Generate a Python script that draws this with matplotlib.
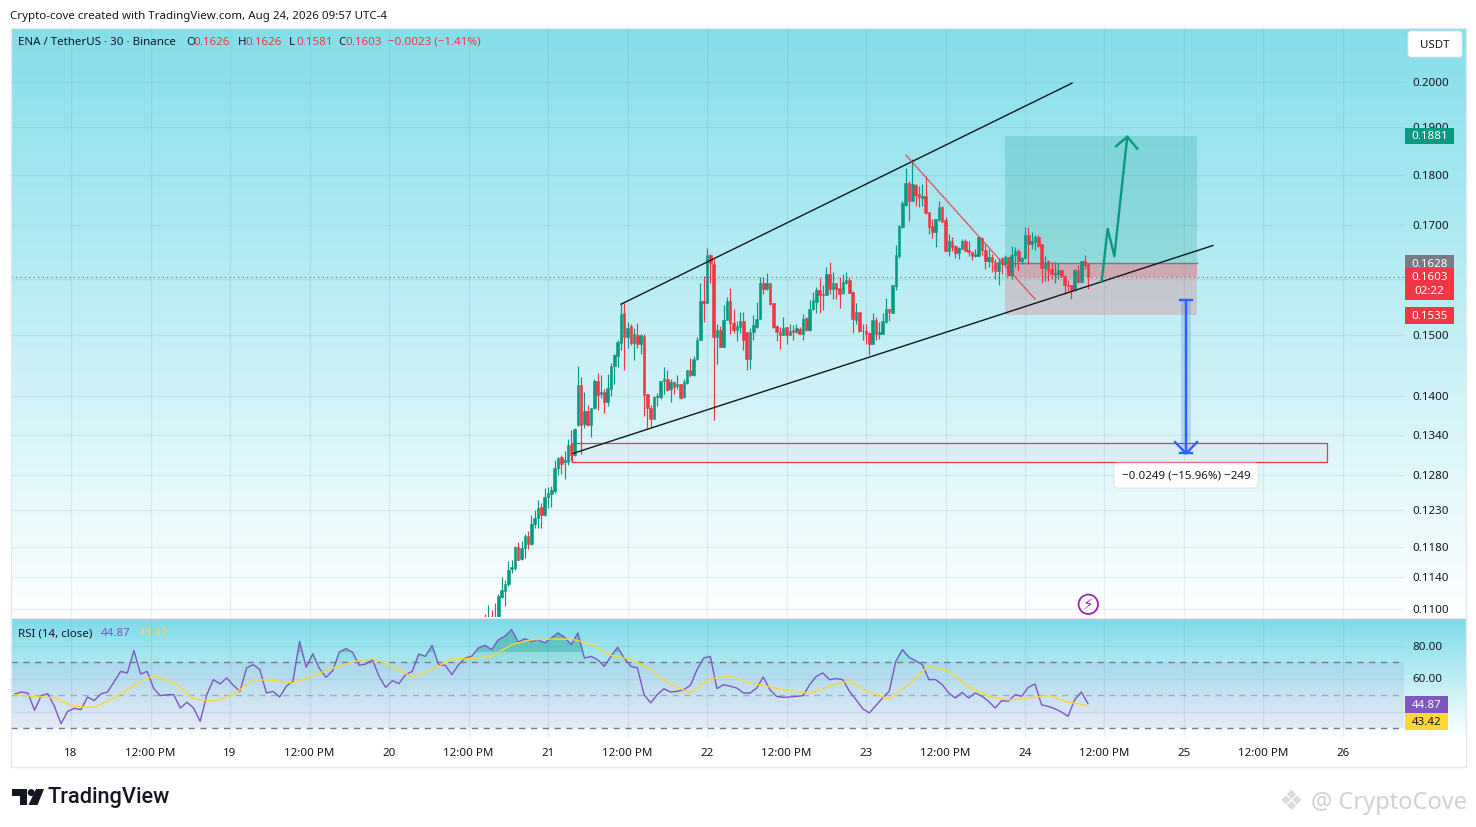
import numpy as np
import matplotlib
matplotlib.use("Agg")
from matplotlib import pyplot as plt
from matplotlib.patches import Rectangle, FancyBboxPatch, Polygon, Circle

plt.rcParams['font.family'] = ['Noto Sans', 'DejaVu Sans']

W, H = 1476, 827

# 30 minute candles, first one is bar 29 of Aug 20
first_bar_day = 20 + 29 / 48
opens = [.1085,.1075,.1090,.1080,.1085,.1115,.1122,.1132,.1151,.1152,
         .1180,.1164,.1178,.1195,.1184,.1211,.1219,.1234,.1224,.1249,
         .1253,.1257,.1290,.1307,.1300,.1300,.1325,.1309,.1355,.1418,
         .1356,.1377,.1355,.1381,.1425,.1403,.1407,.1391,.1411,.1448,
         .1465,.1487,.1538,.1497,.1516,.1487,.1501,.1486,.1499,.1403,
         .1381,.1365,.1398,.1398,.1425,.1428,.1411,.1423,.1416,.1419,
         .1398,.1421,.1443,.1434,.1460,.1493,.1560,.1557,.1643,.1627,
         .1497,.1509,.1481,.1527,.1560,.1522,.1510,.1515,.1525,.1505,
         .1460,.1505,.1515,.1529,.1591,.1581,.1591,.1556,.1516,.1506,
         .1501,.1514,.1501,.1509,.1506,.1511,.1503,.1530,.1509,.1545,
         .1558,.1579,.1572,.1571,.1609,.1581,.1591,.1582,.1574,.1592,
         .1597,.1576,.1526,.1540,.1508,.1507,.1504,.1486,.1526,.1502,
         .1503,.1523,.1545,.1539,.1586,.1642,.1696,.1740,.1783,.1748,
         .1779,.1761,.1753,.1756,.1725,.1698,.1686,.1709,.1736,.1709,
         .1651,.1670,.1661,.1647,.1655,.1670,.1653,.1648,.1642,.1642,
         .1675,.1653,.1633,.1639,.1630,.1613,.1638,.1626,.1639,.1607,
         .1644,.1651,.1633,.1638,.1680,.1663,.1667,.1677,.1663,.1619,
         .1632,.1617,.1607,.1609,.1615,.1605,.1589,.1588,.1579,.1616,
         .1594,.1633,.1626]
highs = [.1093,.1105,.1098,.1107,.1118,.1141,.1136,.1161,.1163,.1181,
         .1187,.1188,.1198,.1201,.1224,.1231,.1245,.1240,.1262,.1263,
         .1264,.1302,.1307,.1310,.1316,.1333,.1347,.1350,.1448,.1431,
         .1407,.1386,.1382,.1428,.1438,.1434,.1411,.1435,.1453,.1469,
         .1492,.1556,.1556,.1523,.1520,.1513,.1522,.1503,.1502,.1404,
         .1386,.1400,.1405,.1425,.1447,.1442,.1428,.1424,.1434,.1420,
         .1428,.1443,.1462,.1465,.1498,.1591,.1604,.1657,.1645,.1636,
         .1520,.1516,.1553,.1567,.1582,.1545,.1524,.1540,.1540,.1506,
         .1513,.1535,.1558,.1602,.1602,.1610,.1592,.1557,.1517,.1515,
         .1532,.1515,.1520,.1518,.1520,.1515,.1536,.1532,.1561,.1575,
         .1585,.1601,.1588,.1621,.1631,.1611,.1592,.1602,.1609,.1611,
         .1602,.1577,.1556,.1541,.1520,.1520,.1506,.1539,.1532,.1523,
         .1538,.1565,.1546,.1588,.1662,.1701,.1747,.1814,.1788,.1833,
         .1782,.1778,.1781,.1797,.1726,.1711,.1711,.1748,.1738,.1715,
         .1683,.1677,.1662,.1658,.1673,.1673,.1670,.1650,.1655,.1678,
         .1677,.1664,.1655,.1646,.1636,.1638,.1639,.1643,.1640,.1660,
         .1658,.1655,.1640,.1696,.1696,.1686,.1680,.1680,.1664,.1641,
         .1634,.1630,.1631,.1628,.1616,.1606,.1598,.1589,.1618,.1624,
         .1633,.1643,.1626]
lows = [.1075,.1070,.1060,.1065,.1080,.1113,.1103,.1129,.1146,.1149,
        .1162,.1162,.1165,.1177,.1183,.1205,.1206,.1206,.1222,.1233,
        .1234,.1255,.1281,.1282,.1274,.1295,.1301,.1308,.1354,.1311,
        .1351,.1354,.1337,.1380,.1379,.1397,.1373,.1385,.1400,.1419,
        .1447,.1475,.1442,.1478,.1483,.1458,.1479,.1469,.1369,.1351,
        .1352,.1364,.1385,.1396,.1404,.1408,.1391,.1403,.1411,.1396,
        .1397,.1420,.1431,.1433,.1459,.1492,.1523,.1556,.1592,.1363,
        .1452,.1480,.1480,.1526,.1503,.1504,.1490,.1504,.1475,.1442,
        .1444,.1492,.1513,.1528,.1572,.1580,.1553,.1512,.1490,.1477,
        .1500,.1486,.1500,.1492,.1504,.1502,.1492,.1508,.1508,.1544,
        .1538,.1538,.1543,.1570,.1572,.1563,.1563,.1548,.1573,.1590,
        .1574,.1504,.1519,.1506,.1492,.1486,.1467,.1485,.1492,.1494,
        .1503,.1522,.1525,.1538,.1579,.1638,.1695,.1738,.1708,.1747,
        .1738,.1735,.1738,.1722,.1683,.1675,.1659,.1708,.1705,.1650,
        .1642,.1651,.1638,.1635,.1654,.1650,.1642,.1634,.1640,.1641,
        .1643,.1618,.1621,.1612,.1600,.1588,.1609,.1625,.1605,.1600,
        .1621,.1615,.1627,.1636,.1627,.1655,.1652,.1658,.1592,.1596,
        .1596,.1600,.1591,.1600,.1602,.1573,.1577,.1563,.1578,.1592,
        .1593,.1618,.1581]
closes = [.1080,.1085,.1080,.1088,.1116,.1124,.1131,.1150,.1153,.1180,
          .1163,.1178,.1195,.1184,.1211,.1219,.1233,.1224,.1249,.1254,
          .1258,.1290,.1305,.1297,.1302,.1325,.1309,.1349,.1418,.1355,
          .1377,.1355,.1381,.1425,.1402,.1406,.1391,.1413,.1448,.1467,
          .1488,.1537,.1497,.1513,.1487,.1502,.1485,.1500,.1402,.1381,
          .1365,.1399,.1401,.1425,.1428,.1410,.1423,.1414,.1419,.1397,
          .1422,.1443,.1434,.1461,.1493,.1560,.1557,.1643,.1629,.1497,
          .1509,.1481,.1527,.1560,.1522,.1510,.1516,.1525,.1493,.1460,
          .1505,.1518,.1529,.1591,.1581,.1591,.1554,.1515,.1506,.1501,
          .1512,.1501,.1507,.1505,.1512,.1503,.1529,.1509,.1545,.1561,
          .1579,.1571,.1571,.1609,.1581,.1591,.1581,.1573,.1594,.1597,
          .1574,.1528,.1540,.1507,.1507,.1503,.1486,.1526,.1503,.1505,
          .1525,.1545,.1540,.1588,.1644,.1698,.1743,.1783,.1748,.1781,
          .1758,.1755,.1756,.1723,.1696,.1686,.1711,.1736,.1706,.1651,
          .1670,.1659,.1647,.1657,.1670,.1651,.1648,.1641,.1645,.1677,
          .1652,.1633,.1639,.1630,.1613,.1630,.1627,.1639,.1607,.1644,
          .1651,.1633,.1638,.1680,.1664,.1669,.1678,.1661,.1619,.1629,
          .1616,.1609,.1610,.1615,.1605,.1588,.1587,.1579,.1616,.1594,
          .1633,.1624,.1603]

# RSI read hourly, its moving average every 3 hours, both end on the last bar
rsi_values = [50.6,51.8,51.2,40.7,49.6,50.8,43.1,32.6,40.1,41.9,
              41.1,48.8,46.6,50.6,51.8,57.9,64.3,63.3,77.0,62.7,
              64.3,53.8,49.6,50.2,50.2,42.1,45.6,42.1,34.0,50.2,
              59.3,56.7,60.3,55.9,52.2,66.4,68.4,65.4,51.2,52.2,
              48.8,55.3,58.3,82.5,66.8,75.0,66.0,60.7,64.7,76.0,
              78.1,75.9,68.0,68.8,71.4,61.3,54.6,58.7,56.9,62.3,
              64.3,74.8,73.4,80.0,68.4,68.0,62.3,68.4,72.4,73.6,
              78.5,80.1,77.5,83.5,85.6,89.6,82.1,84.1,82.5,83.5,
              81.5,84.5,87.6,85.0,80.5,87.6,72.4,73.4,71.4,67.4,
              73.4,78.9,72.4,67.4,66.4,50.2,45.2,50.2,53.8,51.8,
              52.2,53.2,55.9,65.4,72.4,73.4,53.8,56.3,55.3,54.2,
              51.2,51.2,54.2,60.9,53.2,49.2,48.6,48.8,49.2,49.6,
              56.3,61.3,63.3,59.3,59.9,59.3,52.2,47.2,41.7,39.1,
              43.7,48.2,52.2,70.4,77.5,72.8,70.8,68.4,59.3,59.3,
              56.3,51.2,48.2,51.6,48.2,51.2,49.2,46.2,42.1,46.6,
              46.2,50.2,49.2,54.6,56.7,44.1,43.1,41.7,39.7,37.1,
              47.2,51.8,44.87]
rsi_ma = [50.2,49.2,48.2,43.1,42.5,48.2,55.9,61.7,57.7,47.8,
          46.2,50.2,59.3,58.9,57.3,61.7,66.4,70.0,72.0,67.4,
          60.9,65.4,72.0,72.0,73.4,80.5,83.5,83.9,83.9,80.9,
          74.0,71.8,65.4,56.3,51.2,59.9,61.3,57.3,54.9,52.6,
          51.0,55.3,58.7,51.6,47.6,56.7,67.8,64.3,54.9,49.2,
          47.0,48.2,49.8,45.8,43.42]

# 0.1600 and 40.00 have grid lines but their labels are covered by the tags
price_ticks = [0.2, 0.19, 0.18, 0.17, 0.16, 0.15, 0.14, 0.134, 0.128, 0.123, 0.118, 0.114, 0.11]
price_labels = ['0.2000', '0.1900', '0.1800', '0.1700', '', '0.1500', '0.1400', '0.1340',
                '0.1280', '0.1230', '0.1180', '0.1140', '0.1100']
rsi_ticks = [80, 60, 40]
rsi_labels = ['80.00', '60.00', '']
time_ticks = [18, 18.5, 19, 19.5, 20, 20.5, 21, 21.5, 22, 22.5, 23, 23.5, 24, 24.5, 25, 25.5, 26]
time_labels = ['18', '12:00 PM', '19', '12:00 PM', '20', '12:00 PM', '21', '12:00 PM', '22',
               '12:00 PM', '23', '12:00 PM', '24', '12:00 PM', '25', '12:00 PM', '26']

# drawings, in (day, price)
upper_channel = ([21.459, 24.296], [.1554, .1997])
lower_channel = ([21.157, 25.182], [.1312, .1661])
red_trend = ([23.252, 24.063], [.1840, .1563])
bounce_days = [24.482, 24.520, 24.562, 24.643]
bounce_prices = [.1594, .1693, .1641, .1879]
head_days = [24.572, 24.643, 24.706]
head_prices = [.1859, .1879, .1854]
position_days = (23.874, 25.082)
target_price, entry_price, stop_price = .1881, .1628, .1535
last_price = .1603
zone_days = (21.151, 25.899)
zone_prices = (.1300, .1327)
measure_day = 25.013
measure_top, measure_bottom = .1561, .1312

GREEN = '#089981'
RED = '#F23645'
BLUE = '#2962FF'
PURPLE = '#7E57C2'
YELLOW = '#FDD835'
INK = '#131722'
GRID = dict(color='#4f7ea8', alpha=0.11, linewidth=1)
FONT = 8.3


def rect(left, top, right, bottom):
    return [left / W, 1 - bottom / H, (right - left) / W, (bottom - top) / H]


def gradient(position, top_color):
    bg = fig.add_axes(position, zorder=0)
    t = np.linspace(0, 1, 256)[:, None, None]
    top = np.array(matplotlib.colors.to_rgb(top_color))[None, None, :]
    bg.imshow(top + (1 - top) * t, aspect='auto', interpolation='bilinear')
    bg.axis('off')


fig = plt.figure(figsize=(W / 100, H / 100), dpi=100, facecolor='white')
gradient(rect(11, 28, 1466, 617), '#84DEEA')
gradient(rect(11, 618, 1466, 738), '#7CDBE8')

ax = fig.add_axes(rect(11, 28, 1404, 617), zorder=1, facecolor='none')
ax_rsi = fig.add_axes(rect(11, 618, 1404, 738), zorder=1, facecolor='none')
for a in (ax, ax_rsi):
    a.set_xlim(18 - 60 / 159, 18 + 1333 / 159)
    for spine in a.spines.values():
        spine.set_visible(False)
    a.set_xticks(time_ticks)
    a.grid(True, **GRID)
    a.set_axisbelow(True)
    a.yaxis.tick_right()
    a.tick_params(axis='both', length=0, labelsize=FONT, labelcolor=INK, which='both')

ax.set_yscale('log')
ax.set_ylim(.2 * np.exp(-535.2 / 881.5), .2 * np.exp(53.8 / 881.5))
ax.set_yticks(price_ticks, price_labels)
ax.yaxis.set_minor_locator(matplotlib.ticker.NullLocator())
ax.tick_params(axis='y', pad=6)
ax.tick_params(axis='x', labelbottom=False)

# long/short position box goes under the candles
ax.fill_between(position_days, entry_price, target_price, color=GREEN, alpha=0.2, lw=0, zorder=1)
ax.fill_between(position_days, stop_price, entry_price, color=RED, alpha=0.2, lw=0, zorder=1)
ax.fill_between(position_days, last_price, entry_price, color=RED, alpha=0.2, lw=0, zorder=1)
ax.plot(position_days, [entry_price, entry_price], color='#787B86', lw=1, zorder=1.5)

ax.add_patch(Rectangle((zone_days[0], zone_prices[0]), zone_days[1] - zone_days[0],
                       zone_prices[1] - zone_prices[0], facecolor='#b8a8a8', alpha=0.08, lw=0, zorder=1))
ax.add_patch(Rectangle((zone_days[0], zone_prices[0]), zone_days[1] - zone_days[0],
                       zone_prices[1] - zone_prices[0], fill=False, edgecolor=RED, lw=0.9, zorder=2))

ax.axhline(last_price, color=RED, lw=0.8, linestyle=(0, (1, 3)), zorder=1.5)

# candles
opens, highs, lows, closes = map(np.array, (opens, highs, lows, closes))
days = first_bar_day + np.arange(len(opens)) / 48
colors = np.where(closes >= opens, GREEN, RED)
ax.vlines(days, lows, highs, colors=colors, lw=0.85, zorder=3)
ax.bar(days, np.abs(closes - opens), bottom=np.minimum(opens, closes), width=2.6 / 159,
       color=colors, edgecolor=colors, lw=0.4, zorder=3)

# trend lines and arrows
ax.plot(*upper_channel, color=INK, lw=1, zorder=4)
ax.plot(*lower_channel, color=INK, lw=1, zorder=4)
ax.plot(*red_trend, color=RED, lw=1, alpha=0.8, zorder=4)
ax.plot(bounce_days, bounce_prices, color=GREEN, lw=1.7, zorder=5)
ax.plot(head_days, head_prices, color=GREEN, lw=1.7, zorder=5)

ax.add_patch(Rectangle((measure_day - 5 / 159, measure_bottom), 10 / 159, measure_top - measure_bottom,
                       facecolor=BLUE, alpha=0.2, lw=0, zorder=4))
ax.plot([measure_day, measure_day], [measure_top, measure_bottom], color=BLUE, lw=1.7, zorder=5)
for price in (measure_top, measure_bottom):
    ax.plot([measure_day - 6 / 159, measure_day + 6 / 159], [price, price], color=BLUE, lw=1.7, zorder=5)
ax.plot([measure_day - 11 / 159, measure_day, measure_day + 11 / 159], [.1329, measure_bottom, .1329],
        color=BLUE, lw=1.7, zorder=5)

# RSI pane
rsi_values = np.array(rsi_values)
last_day = days[-1]
rsi_days = last_day - np.arange(len(rsi_values))[::-1] / 24
ma_days = last_day - np.arange(len(rsi_ma))[::-1] / 8
ax_rsi.set_ylim(50 - 43 / 1.65, 50 + 77 / 1.65)
ax_rsi.set_yticks(rsi_ticks, rsi_labels)
ax_rsi.set_xticks(time_ticks, time_labels)
ax_rsi.tick_params(axis='y', pad=6)
ax_rsi.tick_params(axis='x', pad=7)
ax_rsi.get_xticklabels()[12].set_fontweight('bold')
ax_rsi.axhspan(30, 70, color=PURPLE, alpha=0.1, lw=0, zorder=1)
for level, a in ((70, 1), (50, 0.5), (30, 1)):
    ax_rsi.axhline(level, color='#787B86', lw=1, alpha=a, linestyle=(0, (4.5, 4)), zorder=2)
# overbought fill fades out towards the 70 line
ax_rsi.fill_between(rsi_days, 70, rsi_values, where=rsi_values > 70, interpolate=True,
                    color=GREEN, alpha=0.1, lw=0, zorder=2)
ax_rsi.fill_between(rsi_days, 76, rsi_values, where=rsi_values > 76, interpolate=True,
                    color=GREEN, alpha=0.3, lw=0, zorder=2)
ax_rsi.plot(rsi_days, rsi_values, color=PURPLE, lw=1, zorder=3)
ax_rsi.plot(ma_days, rsi_ma, color=YELLOW, lw=1, zorder=4)

# everything that sits on top of the panes, in figure pixels
top = fig.add_axes([0, 0, 1, 1], zorder=5, facecolor='none')
top.set_xlim(0, W)
top.set_ylim(H, 0)
top.axis('off')


def label(x, y, text, color=INK, size=FONT, ha='left', **kw):
    top.text(x, y + 1, text, color=color, fontsize=size, ha=ha, va='center', **kw)


def price_y(axis, value):
    return H - axis.transData.transform((0, value))[1]


def tag(axis, value, color, up, down, text, text_color='white', width=49, shift=0):
    y = price_y(axis, value) + shift
    top.add_patch(Rectangle((1405, y - up), width, up + down, facecolor=color, lw=0))
    label(1405 + width / 2, y, text, text_color, ha='center')


tag(ax, target_price, GREEN, 8, 8, '0.1881')
tag(ax, entry_price, '#787B86', 8.5, 7.5, '0.1628')
tag(ax, last_price, RED, 9, 23, '0.1603')
label(1429.5, price_y(ax, last_price) + 14, '02:22', 'white', ha='center')
tag(ax, stop_price, RED, 8.5, 8.5, '0.1535')
tag(ax_rsi, 44.87, PURPLE, 8.5, 8.5, '44.87', width=43, shift=0.8)
tag(ax_rsi, 43.42, YELLOW, 8.5, 8.5, '43.42', text_color=INK, width=43, shift=16)

top.add_patch(FancyBboxPatch((1410, 33), 50, 22, boxstyle='round,pad=2,rounding_size=3',
                             facecolor='white', edgecolor='#e0e3eb', lw=0.6))
label(1435, 44, 'USDT', ha='center')

label(10, 15, 'Crypto-cove created with TradingView.com, Aug 24, 2026 09:57 UTC-4')
label(18, 41.5, 'ENA / TetherUS · 30 · Binance')
for x, letter, value in ((186, 'O', '0.1626'), (238, 'H', '0.1626'), (289, 'L', '0.1581'), (338, 'C', '0.1603')):
    label(x, 41.5, letter)
    label(x + 7.5, 41.5, value, RED)
label(388, 41.5, '−0.0023 (−1.41%)', RED)
label(18, 632.5, 'RSI (14, close)')
label(101, 632.5, '44.87', PURPLE)
label(139, 632.5, '43.42', YELLOW)

top.add_patch(FancyBboxPatch((1116, 465), 140, 21, boxstyle='round,pad=2,rounding_size=3',
                             facecolor='white', edgecolor='#d5dde3', lw=0.5))
label(1186, 475, '−0.0249 (−15.96%) −249', ha='center')

top.add_patch(Circle((1088.3, 604.3), 9.7, fill=False, edgecolor='#9C27B0', lw=1.3))
label(1088.3, 603.5, '⚡', '#9C27B0', size=11, ha='center', family='DejaVu Sans')

top.add_patch(Rectangle((10.5, 27.5), 1455.5, 739.5, fill=False, edgecolor='#e6e8ee', lw=1))
top.plot([11, 1466], [617.6, 617.6], color='#e4e6ec', lw=0.8)

# logo
top.add_patch(Polygon([(12, 789), (27, 789), (27, 805), (20, 805), (20, 796), (12, 796)], color=INK, lw=0))
top.add_patch(Circle((31.2, 792.6), 3.5, color=INK, lw=0))
top.add_patch(Polygon([(36, 789), (44, 789), (37.5, 805), (28.5, 805)], color=INK, lw=0))
label(48, 796, 'TradingView', size=15.7, family='Roboto', weight='medium')

label(1311, 802, '@ CryptoCove', '#d2d2d2', size=17)
label(1291, 801, '❖', '#dcdcdc', size=20, ha='center', family='DejaVu Sans')

fig.savefig('out.png', dpi=100)
